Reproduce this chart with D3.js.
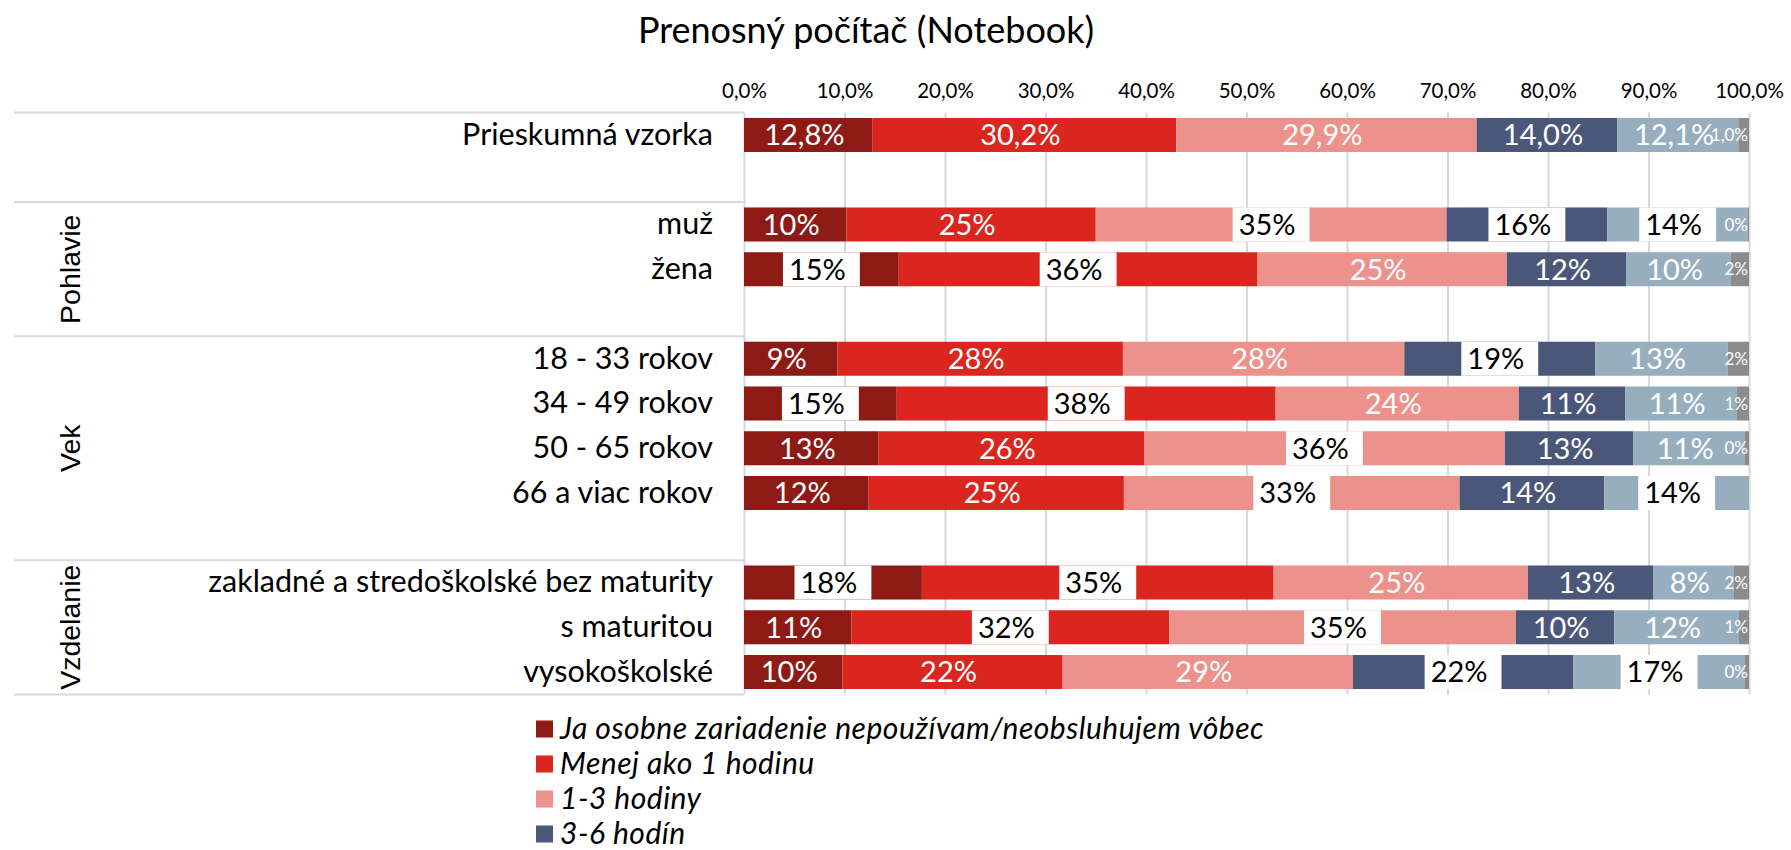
<!DOCTYPE html>
<html>
<head>
<meta charset="utf-8">
<script src="https://cdn.jsdelivr.net/npm/d3@7/dist/d3.min.js"></script>
<style>
  body { margin: 0; background: #fff; }
  text { font-family: Lato, "Open Sans", sans-serif; }
</style>
</head>
<body>
<script>
const width = 1791;
const height = 850;

// rows of the chart ('_gapN' are the empty slots between groups)
const slots = ['Prieskumná vzorka', '_gap1', 'muž', 'žena', '_gap2',
    '18 - 33 rokov', '34 - 49 rokov', '50 - 65 rokov', '66 a viac rokov', '_gap3',
    'zakladné a stredoškolské bez maturity', 's maturitou', 'vysokoškolské'];
const rows = slots.filter(s => !s.startsWith('_'));

const groupNames = ['', 'Pohlavie', 'Vek', 'Vzdelanie'];
const groupSizes = [2, 3, 5, 3];

const seriesNames = ['Ja osobne zariadenie nepoužívam/neobsluhujem vôbec', 'Menej ako 1 hodinu',
    '1-3 hodiny', '3-6 hodín', 'Viac ako 6 hodín', 'Neviem'];
const colors = ['#8e1a16', '#da261e', '#ed918d', '#4a5779', '#97aebf', '#8c8c8c'];

// values in %, one array per series, in the order of rows
const neuzivam = [12.8, 10.2, 15.4, 9.3, 15.2, 13.4, 12.4, 17.7, 10.7, 9.8];
const menejAko1 = [30.2, 24.8, 35.7, 28.4, 37.7, 26.4, 25.4, 35.0, 31.6, 21.9];
const hodiny13 = [29.9, 34.9, 24.8, 28.0, 24.2, 35.9, 33.4, 25.3, 34.5, 28.9];
const hodin36 = [14.0, 16.0, 11.9, 19.0, 10.6, 12.8, 14.4, 12.5, 9.8, 21.9];
const viacAko6 = [12.1, 14.0, 10.4, 13.2, 11.1, 11.1, 14.4, 8.0, 12.4, 17.1];
const neviem = [1.0, 0.1, 1.8, 2.1, 1.2, 0.4, 0, 1.5, 1.0, 0.4];
const seriesValues = [neuzivam, menejAko1, hodiny13, hodin36, viacAko6, neviem];

// decimals shown in labels per row
const labelDecimals = [1, 0, 0, 0, 0, 0, 0, 0, 0, 0];
// labels drawn black on a white box (values above the whole sample)
const boxed = [
    [0, 0, 0, 0, 0, 0],
    [0, 0, 1, 1, 1, 0],
    [1, 1, 0, 0, 0, 0],
    [0, 0, 0, 1, 0, 0],
    [1, 1, 0, 0, 0, 0],
    [0, 0, 1, 0, 0, 0],
    [0, 0, 1, 0, 1, 0],
    [1, 1, 0, 0, 0, 0],
    [0, 1, 1, 0, 0, 0],
    [0, 0, 0, 1, 1, 0]
];

const xTicks = d3.range(0, 101, 10);

const locale = d3.formatLocale({decimal: ',', thousands: ' ', grouping: [3], currency: ['', ' €']});
const fmt1 = locale.format('.1f');
const fmt0 = locale.format('.0f');

const plot = {left: 744, right: 1749, top: 112.6, bottom: 694.4};

const svg = d3.select('body').append('svg')
    .attr('width', width)
    .attr('height', height);

const x = d3.scaleLinear().domain([0, 100]).range([plot.left, plot.right]);
const y = d3.scaleBand().domain(slots).range([plot.top, plot.bottom])
    .paddingInner(0.24).paddingOuter(0.12);

// title
svg.append('text')
    .attr('x', 866)
    .attr('y', 43)
    .attr('text-anchor', 'middle')
    .attr('font-size', 36)
    .attr('fill', '#000')
    .text('Prenosný počítač (Notebook)');

// vertical gridlines
svg.append('g')
    .attr('transform', `translate(0,${plot.top})`)
    .call(d3.axisBottom(x).tickValues(xTicks).tickSize(plot.bottom - plot.top).tickFormat(''))
    .call(g => g.select('.domain').remove())
    .call(g => g.selectAll('.tick line').attr('stroke', '#d9d9d9').attr('stroke-width', 2));

// x axis labels on top
svg.append('g')
    .attr('transform', `translate(0,${plot.top})`)
    .call(d3.axisTop(x).tickValues(xTicks).tickSize(0).tickPadding(15).tickFormat(d => fmt1(d) + '%'))
    .call(g => g.select('.domain').remove())
    .call(g => g.selectAll('text').attr('font-size', 20.5).attr('fill', '#000')
        .style('font-family', 'Lato, sans-serif'));

// category separators
const step = y.step();
let idx = 0;
const bounds = [0];
groupSizes.forEach(n => { idx += n; bounds.push(idx); });
svg.append('g').selectAll('line')
    .data(bounds)
    .join('line')
    .attr('x1', 14)
    .attr('x2', plot.left)
    .attr('y1', d => plot.top + d * step)
    .attr('y2', d => plot.top + d * step)
    .attr('stroke', '#d9d9d9')
    .attr('stroke-width', 2);

// group labels
svg.append('g').selectAll('text')
    .data(groupNames.map((name, i) => ({name, from: bounds[i], to: bounds[i + 1]})).filter(d => d.name))
    .join('text')
    .attr('transform', d => `translate(80,${plot.top + (d.from + d.to) / 2 * step}) rotate(-90)`)
    .attr('text-anchor', 'middle')
    .attr('font-size', 28.5)
    .style('font-family', '"Liberation Sans", Arial, sans-serif')
    .text(d => d.name);

// stacked bars
const table = rows.map((name, r) => {
    let acc = 0;
    return seriesValues.map((vals, s) => {
        const d = {row: name, r, s, x0: acc, x1: acc + vals[r], v: vals[r]};
        acc += vals[r];
        return d;
    });
});

const barG = svg.append('g');
barG.selectAll('g')
    .data(table)
    .join('g')
    .selectAll('rect')
    .data(d => d)
    .join('rect')
    .attr('x', d => x(d.x0))
    .attr('y', d => y(d.row))
    .attr('width', d => x(d.x1) - x(d.x0))
    .attr('height', y.bandwidth())
    .attr('fill', d => colors[d.s]);

// category labels
svg.append('g')
    .attr('transform', `translate(${plot.left},0)`)
    .call(d3.axisLeft(y).tickSize(0).tickPadding(31).tickFormat(d => d.startsWith('_') ? '' : d))
    .call(g => g.select('.domain').remove())
    .call(g => g.selectAll('text').attr('font-size', 30.5).attr('fill', '#000')
        .style('font-family', 'Lato, sans-serif'));

// data labels
const labelG = svg.append('g');
table.flat().filter(d => d.v > 0).forEach(d => {
    const small = d.s === 5;
    const txt = (labelDecimals[d.r] ? fmt1(d.v) : fmt0(d.v)) + '%';
    const isBoxed = boxed[d.r][d.s] === 1;
    const cy = y(d.row) + y.bandwidth() / 2;
    const g = labelG.append('g');
    const t = g.append('text')
        .attr('y', cy)
        .attr('dy', '0.36em')
        .attr('text-anchor', 'middle')
        .attr('font-size', small ? 17 : 29)
        .attr('fill', isBoxed ? '#000' : '#fff')
        .text(txt);
    const w = t.node().getComputedTextLength();
    let cx = x((d.x0 + d.x1) / 2);
    cx = Math.min(cx, plot.right - w / 2 - 1);
    t.attr('x', small ? cx : cx - 4);
    if (isBoxed) {
        g.insert('rect', 'text')
            .attr('x', cx - w / 2 - 10)
            .attr('y', y(d.row))
            .attr('width', w + 20)
            .attr('height', y.bandwidth())
            .attr('fill', '#fff');
    }
});

// legend (only the entries that fit in the picture)
const legendY = d3.scalePoint().domain(seriesNames).range([729, 729 + 35 * 5]);
const legend = svg.append('g').selectAll('g')
    .data(seriesNames.filter(n => legendY(n) + 10 < height))
    .join('g')
    .attr('transform', d => `translate(536,${legendY(d)})`);
legend.append('rect')
    .attr('x', 0)
    .attr('y', -8.5)
    .attr('width', 17)
    .attr('height', 17)
    .attr('fill', d => colors[seriesNames.indexOf(d)]);
legend.append('text')
    .attr('x', 24)
    .attr('dy', '0.34em')
    .attr('font-size', 30)
    .attr('letter-spacing', 0.5)
    .attr('font-style', 'italic')
    .text(d => d);
</script>
</body>
</html>
